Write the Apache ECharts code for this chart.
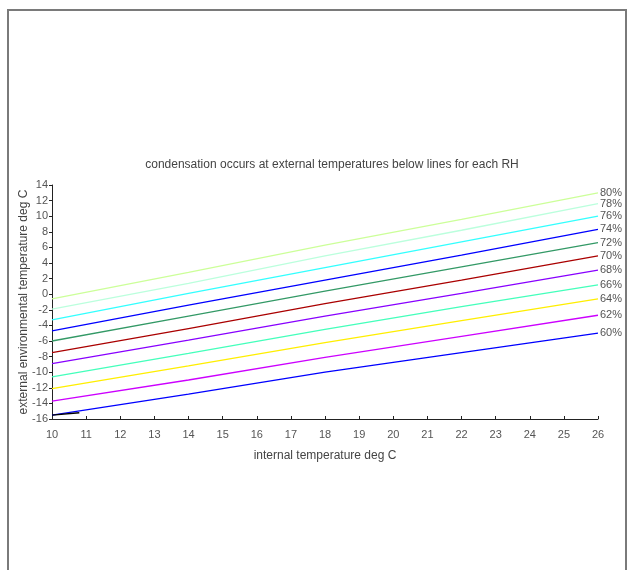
<!DOCTYPE html>
<html><head><meta charset="utf-8">
<script src="https://cdn.jsdelivr.net/npm/echarts@6/dist/echarts.min.js"></script>
<style>html,body{margin:0;padding:0;background:#fff}#c{width:629px;height:570px}</style>
</head><body><div id="c"></div>
<script>
const xValues = [10, 14, 18, 22, 26];
const rh80 = [-0.6, 2.8, 6.3, 9.6, 13.0];
const rh78 = [-1.9, 1.4, 4.9, 8.2, 11.6];
const rh76 = [-3.3, 0.1, 3.4, 6.7, 10.0];
const rh74 = [-4.7, -1.4, 1.8, 5.0, 8.3];
const rh72 = [-6.0, -2.8, 0.4, 3.5, 6.6];
const rh70 = [-7.5, -4.4, -1.2, 1.8, 4.9];
const rh68 = [-8.9, -5.9, -2.8, 0.1, 3.1];
const rh66 = [-10.6, -7.6, -4.5, -1.6, 1.2];
const rh64 = [-12.1, -9.2, -6.2, -3.4, -0.6];
const rh62 = [-13.7, -11.0, -8.1, -5.4, -2.7];
const rh60 = [-15.5, -12.8, -10.0, -7.5, -5.0];
const rh60StartX = [10, 10.8];
const rh60StartY = [-15.5, -15.2];
const seriesNames = ['80%', '78%', '76%', '74%', '72%', '70%', '68%', '66%', '64%', '62%', '60%'];
const seriesData = [rh80, rh78, rh76, rh74, rh72, rh70, rh68, rh66, rh64, rh62, rh60];
const seriesColors = ['#ccff99', '#bbffdd', '#33ffff', '#0000ff', '#339966', '#aa0000', '#8800ff', '#44ffbb', '#ffee00', '#cc00ff', '#0000ff'];

const FONT = '"Liberation Sans", Arial, sans-serif';
const series = seriesNames.map((n, i) => ({
  name: n, type: 'line', symbol: 'none', silent: true,
  data: xValues.map((x, j) => [x, seriesData[i][j]]),
  lineStyle: { color: seriesColors[i], width: 1.3 },
  endLabel: { show: true, formatter: n, color: '#555', fontSize: 11, fontFamily: FONT, distance: 2 }
}));
series.push({
  name: 'start', type: 'line', symbol: 'none', silent: true,
  data: rh60StartX.map((x, j) => [x, rh60StartY[j]]),
  lineStyle: { color: '#000', width: 1.3 }, z: 3
});

const chart = echarts.init(document.getElementById('c'), null, { renderer: 'canvas' });
chart.setOption({
  animation: false,
  backgroundColor: '#fff',
  title: {
    text: 'condensation occurs at external temperatures below lines for each RH',
    left: 327, top: 154, textAlign: 'center',
    textStyle: { fontSize: 12, fontWeight: 'normal', color: '#444', fontFamily: FONT }
  },
  graphic: [{
    type: 'rect', shape: { x: 8, y: 10, width: 618, height: 600 },
    style: { fill: 'none', stroke: '#7a7a7a', lineWidth: 2 }, silent: true
  }],
  grid: { left: 52, right: 31, top: 185, bottom: 151 },
  xAxis: {
    type: 'value', min: 10, max: 26, interval: 1,
    name: 'internal temperature deg C', nameLocation: 'middle', nameGap: 31,
    nameTextStyle: { fontSize: 12, color: '#444', fontFamily: FONT },
    axisLine: { onZero: false, lineStyle: { color: '#222' } },
    axisTick: { inside: true, length: 3, lineStyle: { color: '#222' } },
    axisLabel: { fontSize: 11, color: '#555', fontFamily: FONT, margin: 10 },
    splitLine: { show: false }
  },
  yAxis: {
    type: 'value', min: -16, max: 14, interval: 2,
    name: 'external environmental temperature deg C', nameLocation: 'middle', nameGap: 22,
    nameMoveOverlap: false,
    nameTextStyle: { fontSize: 12, color: '#444', fontFamily: FONT },
    axisLine: { show: true, onZero: false, lineStyle: { color: '#222' } },
    axisTick: { show: true, length: 3, lineStyle: { color: '#222' } },
    axisLabel: { fontSize: 11, color: '#555', fontFamily: FONT, margin: 4 },
    splitLine: { show: false }
  },
  series: series
});
</script></body></html>
